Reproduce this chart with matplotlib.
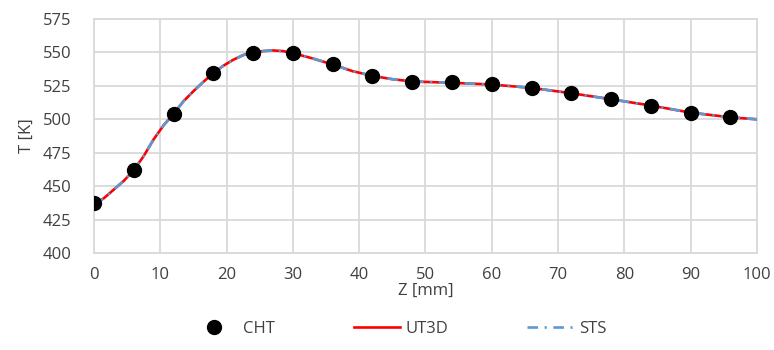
import matplotlib
matplotlib.use("Agg")
import matplotlib.pyplot as plt

plt.rcParams['font.family'] = ['Open Sans', 'DejaVu Sans']

# CHT points
cht_z = [0, 6, 12, 18, 24, 30, 36, 42, 48, 54, 60, 66, 72, 78, 84, 90, 96]
cht_T = [437.3, 462.1, 504.0, 534.4, 549.5, 549.4, 541.1, 532.6, 528.1, 527.6,
         526.2, 523.3, 519.4, 514.9, 510.3, 504.5, 501.6]

# UT3D / STS curves
line_z = [0, 1.5, 3, 4.5, 6, 7.5, 9, 10.5, 12, 13.5, 15, 16.5, 18, 19.5, 21,
          22.5, 24, 25.5, 27, 28.5, 30, 33, 36, 39, 42, 45, 48, 54, 60, 66,
          72, 78, 84, 90, 96, 100]
ut3d_T = [436.5, 441.0, 447.5, 454.0, 462.0, 472.5, 485.0, 495.5, 504.0, 513.5,
          521.0, 528.0, 534.5, 540.0, 544.5, 548.0, 550.0, 551.0, 551.5, 551.0,
          549.5, 545.5, 541.0, 536.0, 532.5, 530.0, 528.3, 527.3, 526.0, 523.5,
          519.5, 515.0, 510.3, 505.0, 501.5, 500.0]
sts_T = list(ut3d_T)

fig = plt.figure(figsize=(7.74, 3.5), dpi=100)
ax = fig.add_axes([0.1214, 0.277, 0.8566, 0.6687])

ax.plot(line_z, ut3d_T, color='#ff0000', lw=1.9, label='UT3D', zorder=3)
ax.plot(line_z, sts_T, color='#5b9bd5', lw=1.9, dashes=[4, 2.5, 0.8, 2.5],
        label='STS', zorder=4)
ax.plot(cht_z, cht_T, 'o', color='black', ms=10, label='CHT', zorder=5)

ax.set_xlim(0, 100)
ax.set_ylim(400, 575)
ax.set_xticks(range(0, 101, 10))
ax.set_yticks(range(400, 576, 25))
ax.grid(True, color='#d9d9d9', lw=1.3)
ax.set_axisbelow(True)
for s in ax.spines.values():
    s.set_color('#d9d9d9')
    s.set_linewidth(1.3)
ax.tick_params(length=0, labelsize=12, colors='#404040')
ax.tick_params(axis='x', pad=10)
ax.tick_params(axis='y', pad=16)
ax.set_xlabel('Z [mm]', fontsize=12, color='#404040', labelpad=0)
ax.set_ylabel('T [K]', fontsize=12, color='#404040', labelpad=6)

h, l = ax.get_legend_handles_labels()
order = [2, 0, 1]
fig.legend([h[i] for i in order], [l[i] for i in order], loc='center',
           bbox_to_anchor=(0.515, 0.06), ncol=3, frameon=False, fontsize=12,
           handlelength=2.8, columnspacing=4.75, handletextpad=0.3,
           labelcolor='#404040')

fig.savefig('out.png', dpi=100)
